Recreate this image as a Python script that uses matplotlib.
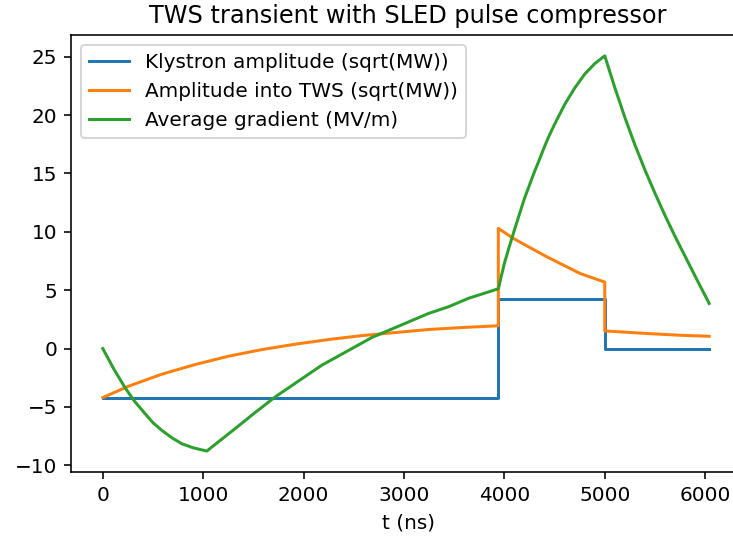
#!/usr/bin/env python3
import matplotlib.pyplot as plt
import matplotlib as mpl

mpl.use("Agg")

# klystron drive (phase flip at ~3940 ns, switched off at 5000 ns)
t_kly = [0, 3940, 3940, 5000, 5000, 6040]
a_kly = [-4.23, -4.23, 4.23, 4.23, 0.0, 0.0]

# amplitude into the travelling wave structure
t_tws = [0, 255, 587, 919, 1251, 1584, 1915, 2247, 2580, 2911, 3243, 3576, 3940,
         3940, 4090, 4422, 4754, 5000,
         5000, 5418, 5750, 6040]
a_tws = [-4.2, -3.23, -2.2, -1.37, -0.66, -0.09, 0.37, 0.77, 1.11, 1.37, 1.63, 1.8, 1.95,
         10.29, 9.43, 7.86, 6.43, 5.69,
         1.51, 1.29, 1.14, 1.05]

# average gradient
t_grad = [0, 110, 222, 320, 421, 500, 587, 690, 787, 900, 1036,
          1318, 1500, 1716, 1950, 2181, 2450, 2679, 2950, 3243, 3450, 3642, 3940,
          4000, 4050, 4100, 4150, 4200, 4250, 4300, 4350, 4400, 4450, 4500,
          4600, 4700, 4800, 4900, 5000,
          5100, 5200, 5300, 5400, 5500, 5600, 5700, 5800, 5900, 6040]
g_avg = [0.0, -1.75, -3.35, -4.55, -5.57, -6.35, -7.0, -7.65, -8.15, -8.5, -8.78,
         -6.86, -5.6, -4.15, -2.78, -1.43, -0.15, 0.94, 1.93, 3.0, 3.6, 4.3, 5.12,
         7.3, 8.75, 10.15, 11.5, 12.85, 14.0, 15.15, 16.2, 17.3, 18.3, 19.2,
         20.9, 22.3, 23.5, 24.4, 25.07,
         22.35, 19.8, 17.45, 15.3, 13.3, 11.4, 9.6, 7.9, 6.2, 3.86]

fig = plt.figure(figsize=(733 / 144, 539 / 144), dpi=144)
# the original is cropped: right spine lies past the edge
ax = fig.add_axes([0.0969, 0.1237, 0.9195, 0.8113])

ax.plot(t_kly, a_kly, label='Klystron amplitude (sqrt(MW))')
ax.plot(t_tws, a_tws, label='Amplitude into TWS (sqrt(MW))')
ax.plot(t_grad, g_avg, label='Average gradient (MV/m)')

ax.spines['right'].set_visible(False)
ax.set_xlim(-316, 6397)
ax.set_ylim(-10.6, 26.85)
ax.set_xlabel('t (ns)')
ax.set_title('TWS transient with SLED pulse compressor')
ax.legend(loc='upper left')

fig.savefig('out.png', dpi=144)
